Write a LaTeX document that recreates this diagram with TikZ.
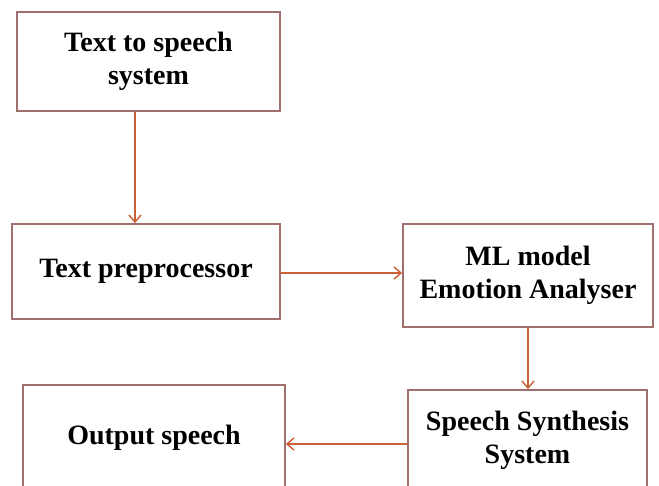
\documentclass[tikz,border=0pt]{standalone}
\usepackage{fontspec}
\setmainfont{Liberation Serif}
\usetikzlibrary{arrows.meta}
\definecolor{boxline}{RGB}{160,112,110}
\definecolor{flowline}{RGB}{205,95,55}
\tikzset{
  block/.style={draw=boxline, line width=1.8pt, fill=white, inner sep=0pt,
    align=center, font=\fontsize{28}{33}\selectfont\bfseries},
  flow/.style={draw=flowline, line width=1.4pt,
    -{Straight Barb[length=7pt,width=12pt,line width=1.4pt]}}
}
\begin{document}
\begin{tikzpicture}[x=1pt,y=-1pt]
  \useasboundingbox (0,0) rectangle (659,485);
  \fill[white] (0,0) rectangle (659,485);
  \clip (0,0) rectangle (659,485);
  % blocks (centres and sizes in pixel units)
  \node[block, minimum width=263pt, minimum height=99pt]  (tts) at (148.5,61.5) {Text to speech\\system};
  \node[block, minimum width=268pt, minimum height=95pt]  (pre) at (146,271.5) {Text preprocessor};
  \node[block, minimum width=250pt, minimum height=103pt] (ml)  at (528,275.5) {ML model\\Emotion Analyser};
  \node[block, minimum width=239pt, minimum height=100pt] (syn) at (527.5,440) {Speech Synthesis\\System};
  \node[block, minimum width=262pt, minimum height=106pt] (out) at (154,438) {Output speech};
  % connectors
  \draw[flow] ([xshift=-13.5pt]tts.south) -- ([xshift=-13.5pt]tts.south |- pre.north);
  \draw[flow] ([yshift=-1.5pt]pre.east) -- ([yshift=-1.5pt]pre.east -| ml.west);
  \draw[flow] (ml.south) -- (ml.south |- syn.north);
  \draw[flow] ([yshift=-4pt]syn.west) -- ([yshift=-4pt]syn.west -| out.east);
\end{tikzpicture}
\end{document}
